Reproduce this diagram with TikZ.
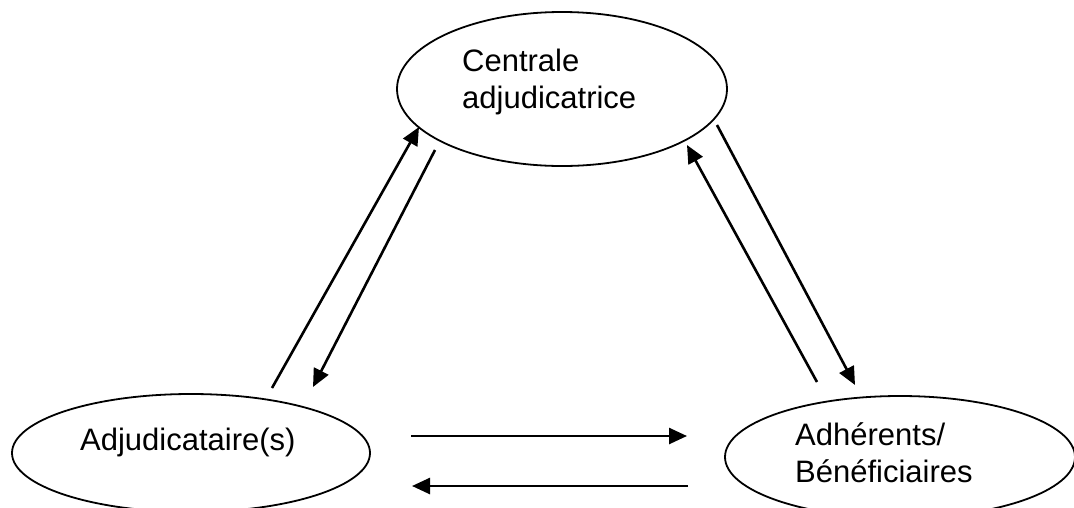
\documentclass[tikz,border=0pt]{standalone}
\usepackage{fontspec}
\setmainfont{Liberation Sans}
\usetikzlibrary{shapes.geometric,arrows.meta}
\begin{document}
\begin{tikzpicture}[x=1pt,y=-1pt,
  ell/.style={draw, ellipse, line width=1.8pt, inner sep=0pt},
  txt/.style={font=\fontsize{31}{37}\selectfont, inner sep=0pt, align=left, anchor=base west},
  arr/.style={line width=2.6pt, -{Triangle[length=18pt,width=16pt]}}]
\useasboundingbox (0,0) rectangle (1074,507);
\begin{scope}
\clip (0,0) rectangle (1074,507);
\node[ell, minimum width=330pt, minimum height=154pt] (cent) at (562,89) {};
\node[ell, minimum width=358pt, minimum height=118pt] (adj) at (191,453) {};
\node[ell, minimum width=350pt, minimum height=122pt] (adh) at (900,457) {};
\end{scope}
\node[txt] (centt) at (462,108) {Centrale\\adjudicatrice};
\node[txt] (adjt) at (80,450) {Adjudicataire(s)};
\node[txt] (adht) at (795,482) {Adhérents/\\Bénéficiaires};
% arrow end points
\coordinate (a1s) at (272,388); \coordinate (a1e) at (419,127);
\coordinate (a2s) at (435,150); \coordinate (a2e) at (313,387);
\coordinate (a3s) at (817,382); \coordinate (a3e) at (687,145);
\coordinate (a4s) at (717,125); \coordinate (a4e) at (855,385);
\coordinate (a5s) at (411,436); \coordinate (a5e) at (687,436);
\coordinate (a6s) at (688,486); \coordinate (a6e) at (412,486);
\draw[arr] (a1s) -- (a1e);
\draw[arr] (a2s) -- (a2e);
\draw[arr] (a3s) -- (a3e);
\draw[arr] (a4s) -- (a4e);
\draw[arr] (a5s) -- (a5e);
\draw[arr] (a6s) -- (a6e);
\end{tikzpicture}
\end{document}
